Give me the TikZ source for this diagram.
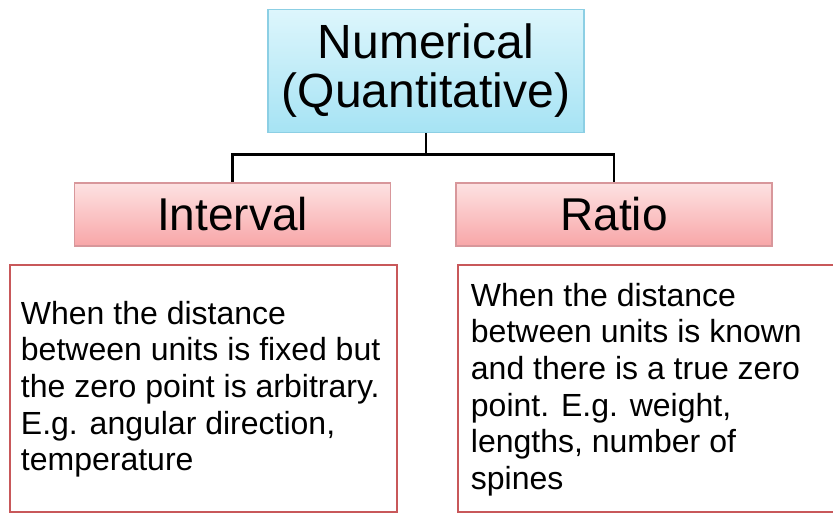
\documentclass[tikz,border=0pt]{standalone}
\usepackage{fontspec}
\setmainfont{Liberation Sans}
\usepackage{tikz}
\usetikzlibrary{positioning}

\definecolor{cyanborder}{HTML}{8CCFE4}
\definecolor{cyantop}{HTML}{DDF6FC}
\definecolor{cyanbottom}{HTML}{A6E3F4}
\definecolor{pinkborder}{HTML}{D8979B}
\definecolor{pinktop}{HTML}{FDE2E2}
\definecolor{pinkbottom}{HTML}{F8A6A8}
\definecolor{descborder}{HTML}{C8585A}

\tikzset{
  headbox/.style={draw=cyanborder, line width=1.5pt, top color=cyantop, bottom color=cyanbottom,
    minimum width=316pt, minimum height=123pt, align=center,
    font=\fontsize{48}{49}\selectfont},
  scalebox/.style={draw=pinkborder, line width=1.5pt, top color=pinktop, bottom color=pinkbottom,
    minimum width=316pt, minimum height=63pt, font=\fontsize{46}{46}\selectfont},
  descbox/.style={draw=descborder, line width=2.5pt, fill=white,
    minimum width=387pt, minimum height=247pt},
  desctext/.style={align=left, inner sep=0pt, font=\fontsize{32}{36.7}\selectfont},
  branch/.style={line width=2.5pt, black}
}

\begin{document}
\begin{tikzpicture}[x=1pt, y=-1pt]
      \useasboundingbox (0,0) rectangle (833,514);
      \node[headbox] (num) at (426,71) {Numerical\\(Quantitative)};
      \node[scalebox] (interval) at (232.5,214.5) {Interval};
      \node[scalebox] (ratio) at (614,214.5) {Ratio};

      \node[descbox] (intdesc) at (203.5,388.5) {};
      \node[descbox] (ratdesc) at (651.5,388.5) {};

      \node[desctext, anchor=north west] (inttext) at ([shift={(12pt,-37pt)}]intdesc.north west)
        {When the distance\\between units is fixed but\\the zero point is arbitrary.\\E.g. angular direction,\\temperature};
      \node[desctext, anchor=north west] (rattext) at ([shift={(14pt,-19pt)}]ratdesc.north west)
        {When the distance\\between units is known\\and there is a true zero\\point. E.g. weight,\\lengths, number of\\spines};

      \draw[branch] (num.south) -- ++(0,21) coordinate (split);
      \draw[branch] (split) -| (interval.north);
      \draw[branch] (split) -| (ratio.north);
\end{tikzpicture}
\end{document}
